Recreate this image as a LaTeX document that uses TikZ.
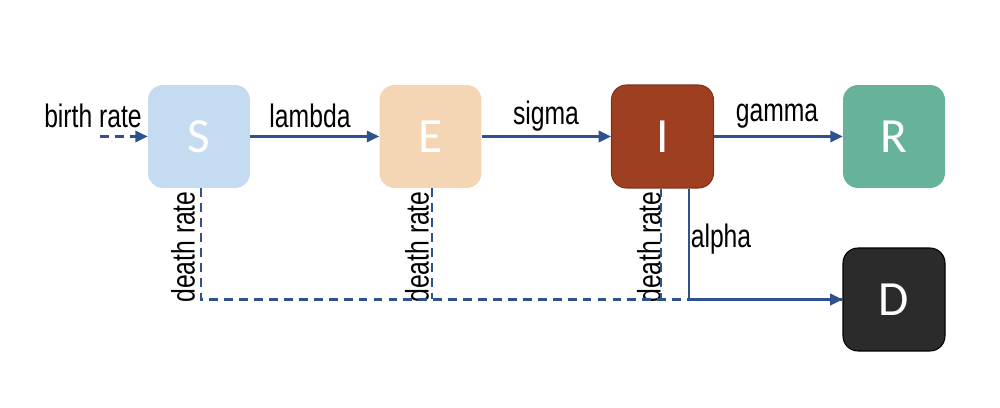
\documentclass[tikz,border=0pt]{standalone}
\usepackage{fontspec}
\setmainfont{Liberation Sans}
\newfontfamily\lblfont[FakeStretch=0.76]{Liberation Sans}
\newfontfamily\boxfont{Carlito}
\usetikzlibrary{arrows.meta,positioning,calc}
\definecolor{sblue}{HTML}{C5DBF2}
\definecolor{epeach}{HTML}{F5D6B4}
\definecolor{irust}{HTML}{9E3F21}
\definecolor{rteal}{HTML}{67B29A}
\definecolor{ddark}{HTML}{2B2B2B}
\definecolor{flow}{HTML}{2F528F}
\tikzset{
  comp/.style={minimum width=2.04cm,minimum height=2.06cm,inner sep=0pt,rounded corners=0.3cm,
    text=white,font=\boxfont\fontsize{28}{30}\selectfont},
  lbl/.style={inner sep=0pt,font=\lblfont\fontsize{18.5}{20}\selectfont},
  arrow/.style={-{Triangle[length=7pt,width=6.5pt]},line width=1.3pt,draw=flow},
  deathline/.style={line width=1.3pt,draw=flow,dash pattern=on 5pt off 3.5pt}
}
\begin{document}
\begin{tikzpicture}[x=0.02cm,y=-0.02cm]
  \useasboundingbox (0,0) rectangle (1000,408);

  \node[comp,fill=sblue]  (S) at (199,136.5) {S};
  \node[comp,fill=epeach] (E) at (430.5,136.5) {E};
  \node[comp,fill=irust,draw=irust!80!black,line width=0.6pt] (I) at (662.5,136.5) {I};
  \node[comp,fill=rteal]  (R) at (894,136.5) {R};
  \node[comp,fill=ddark,draw=black,line width=0.6pt] (D) at (894,299.5) {D};

  \coordinate (bin) at (100,136.5);

  \node[lbl] (lb) at (93,116)  {birth rate};
  \node[lbl] (ll) at (310,116) {lambda};
  \node[lbl] (ls) at (546,116) {sigma};
  \node[lbl] (lg) at (777,116) {gamma};
  \node[lbl] (la) at (721,239) {alpha};
  \node[lbl,rotate=90] (dS) at (183,247) {death rate};
  \node[lbl,rotate=90] (dE) at (417,247) {death rate};
  \node[lbl,rotate=90] (dI) at (649,247) {death rate};

  \draw[arrow,dash pattern=on 5pt off 3.5pt] (bin) -- (S);
  \draw[arrow] (S) -- (E);
  \draw[arrow] (E) -- (I);
  \draw[arrow] (I) -- (R);

  % death flows share one dashed bus into D
  \draw[deathline] ([xshift=0.04cm]S.south) |- (D.west);
  \draw[deathline] ([xshift=0.03cm]E.south) -- ([xshift=0.03cm]E.south |- D.west);
  \draw[deathline] ([xshift=-0.03cm]I.south) -- ([xshift=-0.03cm]I.south |- D.west);
  \draw[arrow] ([xshift=0.53cm]I.south) |- (D.west);

\end{tikzpicture}
\end{document}
